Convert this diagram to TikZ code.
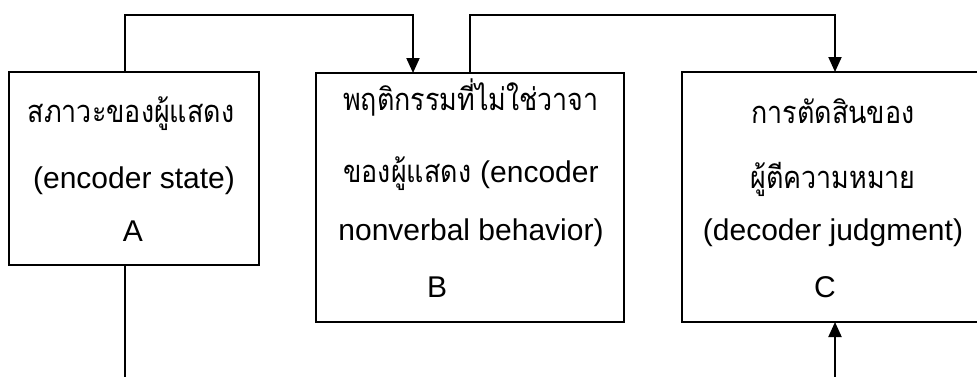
\documentclass[tikz,border=0pt]{standalone}
\usepackage{fontspec}
\setmainfont{Liberation Sans}
\newfontfamily\thaifont[Script=Thai,Scale=1.03,FakeStretch=0.87]{Loma}
\usetikzlibrary{arrows.meta}
\tikzset{
  boxnode/.style={draw, line width=2pt, inner sep=0pt, outer sep=0pt},
  lbl/.style={anchor=base, inner sep=0pt, font=\fontsize{30}{36}\selectfont},
  thl/.style={anchor=base, inner sep=0pt, font=\fontsize{30}{36}\selectfont\thaifont},
  conn/.style={line width=2pt},
  arr/.style={conn, -{Triangle[width=13pt,length=15pt]}}
}
\begin{document}
\begin{tikzpicture}[x=1pt,y=-1pt]
\useasboundingbox (0,0) rectangle (977,376);
\node[boxnode, minimum width=250pt, minimum height=193pt] (A) at (134,168.5) {};
\node[boxnode, minimum width=308pt, minimum height=249pt] (B) at (470,197.5) {};
\node[boxnode, minimum width=302pt, minimum height=250pt] (C) at (833,197) {};
% box A text
\node[thl] (a1) at (131,122) {สภาวะของผู้แสดง};
\node[lbl] (a2) at (134,188) {(encoder state)};
\node[lbl] (a3) at (133,241) {A};
% box B text
\node[thl] (b1) at (471,110) {พฤติกรรมที่ไม่ใช่วาจา};
\node[lbl] (b2) at (471,182) {\thaifont ของผู้แสดง \rmfamily(encoder};
\node[lbl] (b3) at (471,240) {nonverbal behavior)};
\node[lbl] (b4) at (437,297) {B};
% box C text
\node[thl] (c1) at (833,123) {การตัดสินของ};
\node[thl] (c2) at (833,188) {ผู้ตีความหมาย};
\node[lbl] (c3) at (833,240) {(decoder judgment)};
\node[lbl] (c4) at (825,297) {C};
% connectors
\coordinate (t1) at (125,15);
\coordinate (t2) at (470,15);
\coordinate (bt) at (125,400);
\draw[arr] ([xshift=-9pt]A.north) |- (t1) -| ([xshift=-57pt]B.north);
\draw[arr] (B.north) |- (t2) -| ([xshift=2pt]C.north);
\draw[arr] ([xshift=-9pt]A.south) |- (bt) -| ([xshift=2pt]C.south);
\end{tikzpicture}
\end{document}
